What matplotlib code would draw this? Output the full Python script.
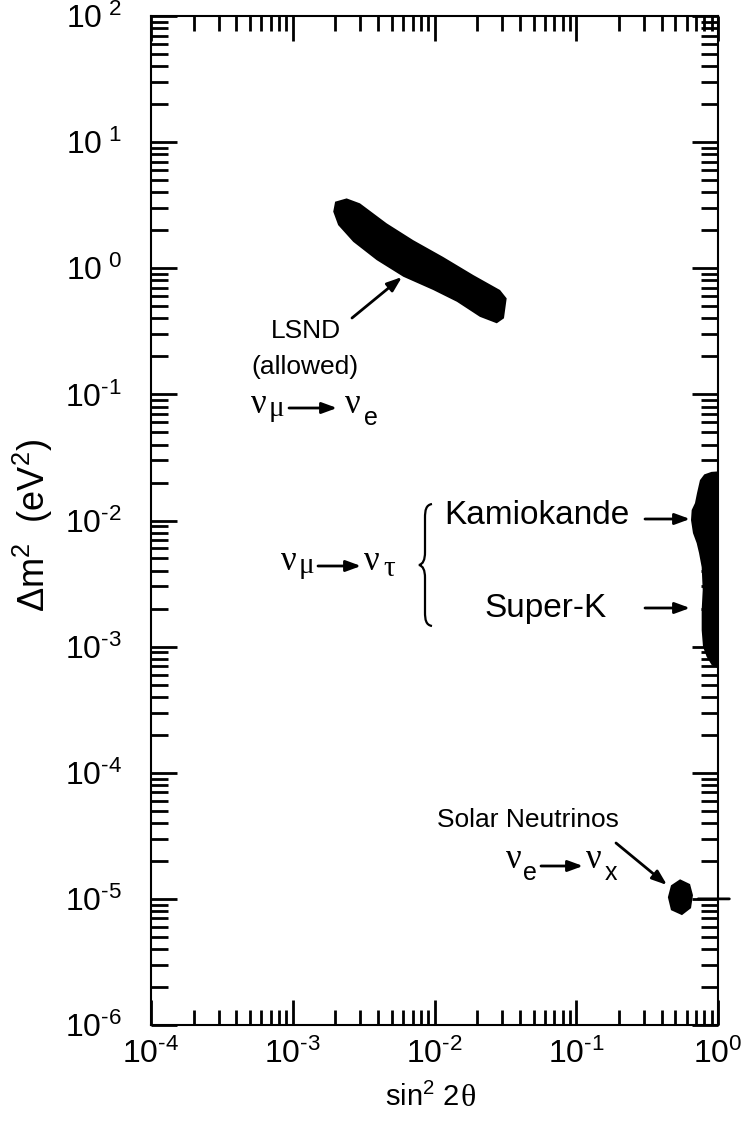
import math
import matplotlib
matplotlib.use('Agg')
import matplotlib.pyplot as plt
from matplotlib.patches import PathPatch
from matplotlib.path import Path
from matplotlib.ticker import FixedLocator, FuncFormatter, NullFormatter, LogLocator

plt.rcParams['font.family'] = ['Liberation Sans', 'DejaVu Sans']
plt.rcParams['mathtext.fontset'] = 'custom'
plt.rcParams['mathtext.rm'] = 'Liberation Sans'
plt.rcParams['mathtext.it'] = 'Liberation Sans:italic'
plt.rcParams['mathtext.bf'] = 'Liberation Sans:bold'

# ---- data ----
lsnd_x = [1.99e-3, 2.40e-3, 2.98e-3, 4.60e-3, 7.08e-3, 1.15e-2, 1.88e-2, 2.90e-2, 3.23e-2,
          3.09e-2, 2.75e-2, 2.09e-2, 1.44e-2, 9.8e-3, 6.03e-3, 3.91e-3, 2.67e-3, 2.09e-3, 1.93e-3]
lsnd_y = [3.37, 3.58, 3.27, 2.27, 1.67, 1.23, 0.883, 0.672, 0.577,
          0.401, 0.366, 0.412, 0.542, 0.672, 0.856, 1.16, 1.62, 2.20, 2.81]

atm_x = [1.0, 0.90, 0.80, 0.746, 0.711, 0.688, 0.652, 0.645, 0.666, 0.707, 0.735, 0.767,
         0.780, 0.767, 0.767, 0.784, 0.832, 0.903, 1.0]
atm_y = [0.0245, 0.0243, 0.0232, 0.0209, 0.0165, 0.01374, 0.0121, 0.01007, 0.00794, 0.00662,
         0.00551, 0.00427, 0.00281, 0.00195, 0.00135, 0.000996, 0.00083, 0.000714, 0.000675]

solar_x = [0.540, 0.635, 0.666, 0.645, 0.557, 0.466, 0.443, 0.466]
solar_y = [1.43e-5, 1.31e-5, 1.07e-5, 8.44e-6, 7.43e-6, 8.14e-6, 1.03e-5, 1.28e-5]

x_major = [1e-4, 1e-3, 1e-2, 1e-1, 1e0]
y_major = [1e-6, 1e-5, 1e-4, 1e-3, 1e-2, 1e-1, 1e0, 1e1, 1e2]

W, H = 752, 1124


def fx(px):
    return px / W


def fy(py):
    return 1 - py / H


fig = plt.figure(figsize=(W / 100, H / 100), dpi=100)
ax = fig.add_axes([fx(151), fy(1025), (718 - 151) / W, (1025 - 16) / H])
ax.set_xscale('log')
ax.set_yscale('log')
ax.set_xlim(1e-4, 1)
ax.set_ylim(1e-6, 1e2)

ax.fill(lsnd_x, lsnd_y, color='black', lw=0)
ax.fill(atm_x, atm_y, color='black', lw=0)
ax.fill(solar_x, solar_y, color='black', lw=0)

ax.xaxis.set_major_locator(FixedLocator(x_major))
ax.yaxis.set_major_locator(FixedLocator(y_major))
ax.xaxis.set_minor_locator(LogLocator(base=10, subs=range(2, 10), numticks=30))
ax.yaxis.set_minor_locator(LogLocator(base=10, subs=range(2, 10), numticks=30))
ax.xaxis.set_minor_formatter(NullFormatter())
ax.yaxis.set_minor_formatter(NullFormatter())

HY = '\u2010'


def xfmt(v, pos):
    k = int(round(math.log10(v)))
    if k < 0:
        return r'$\mathregular{10^{%s%d}}$' % (HY, -k)
    return r'$\mathregular{10^{%d}}$' % k


def yfmt(v, pos):
    k = int(round(math.log10(v)))
    if k >= 0:
        return r'$\mathregular{10^{\ %d}}$' % k
    return r'$\mathregular{10^{%s%d}}$' % (HY, -k)


ax.xaxis.set_major_formatter(FuncFormatter(xfmt))
ax.yaxis.set_major_formatter(FuncFormatter(yfmt))

ax.tick_params(which='both', direction='in', top=True, right=True, color='black')
ax.tick_params(axis='x', which='major', length=18, width=2, labelsize=23, pad=10)
ax.tick_params(axis='x', which='minor', length=11, width=2)
ax.tick_params(axis='y', which='major', length=19, width=2, labelsize=23, pad=21)
ax.tick_params(axis='y', which='minor', length=12, width=2)
for s in ax.spines.values():
    s.set_linewidth(1.5)

# odd outward tick at 1e-5 on the right edge
ax.annotate('', xy=(1.02, 1e-5), xycoords=('axes fraction', 'data'),
            xytext=(0.965, 1e-5), textcoords=('axes fraction', 'data'),
            arrowprops=dict(arrowstyle='-', lw=2, color='black', shrinkA=0, shrinkB=0))

# axis labels
fig.text(fx(33), fy(525), r'$\mathregular{\Delta m^2}$  $\mathregular{(eV^2)}$', rotation=90,
         ha='center', va='center', fontsize=26)
fig.text(fx(459), fy(1097), r'$\mathregular{sin^2}$ 2', ha='right', va='center', fontsize=21)
fig.text(fx(460), fy(1099), 'θ', ha='left', va='center', fontsize=23, family='Liberation Serif')

# annotation texts
fs = 19
fig.text(fx(306), fy(331), 'LSND', ha='center', va='center', fontsize=fs)
fig.text(fx(305), fy(367), '(allowed)', ha='center', va='center', fontsize=fs)
fig.text(fx(537), fy(516), 'Kamiokande', ha='center', va='center', fontsize=24)
fig.text(fx(546), fy(608), 'Super-K', ha='center', va='center', fontsize=24)
fig.text(fx(528), fy(820), 'Solar Neutrinos', ha='center', va='center', fontsize=fs)

gk = 'Liberation Serif'


def greek(x, y, s, size=25, fam=gk):
    fig.text(fx(x), fy(y), s, ha='center', va='center', fontsize=size, family=fam)


def arrow(x0, y0, x1, y1):
    ax.annotate('', xy=(fx(x1), fy(y1)), xycoords='figure fraction',
                xytext=(fx(x0), fy(y0)), textcoords='figure fraction',
                arrowprops=dict(arrowstyle='-|>,head_length=0.6,head_width=0.22',
                                mutation_scale=15, color='black', lw=2,
                                shrinkA=0, shrinkB=0))


# LSND reaction
greek(259, 404, 'ν')
greek(276, 409, 'μ', 21)
arrow(289, 408, 337, 408)
greek(353, 404, 'ν')
greek(371, 418, 'e', 18, 'Liberation Sans')

# atmospheric reaction
greek(289, 561, 'ν')
greek(306, 566, 'μ', 21)
arrow(318, 566, 361, 566)
greek(372, 561, 'ν')
greek(389, 569, 'τ', 21)

# solar reaction
greek(514, 860, 'ν')
greek(530, 873, 'e', 18, 'Liberation Sans')
arrow(541, 866, 583, 866)
greek(594, 860, 'ν')
greek(611, 873, 'x', 18, 'Liberation Sans')

# pointer arrows
arrow(352, 318, 402, 277)
arrow(645, 519, 690, 519)
arrow(645, 608, 690, 608)
arrow(616, 843, 667, 885)

# brace
verts = [(432, 504), (426, 505), (425, 510), (425, 518), (425, 552),
         (425, 560), (423, 564), (419, 565),
         (423, 566), (425, 570), (425, 578), (425, 612),
         (425, 620), (426, 625), (432, 626)]
codes = [Path.MOVETO, Path.CURVE4, Path.CURVE4, Path.CURVE4, Path.LINETO,
         Path.CURVE4, Path.CURVE4, Path.CURVE4,
         Path.CURVE4, Path.CURVE4, Path.CURVE4, Path.LINETO,
         Path.CURVE4, Path.CURVE4, Path.CURVE4]
bpath = Path([(fx(a), fy(b)) for a, b in verts], codes)
fig.add_artist(PathPatch(bpath, transform=fig.transFigure, fill=False, lw=1.6, color='black'))

fig.savefig('out.png', dpi=100, facecolor='white')
